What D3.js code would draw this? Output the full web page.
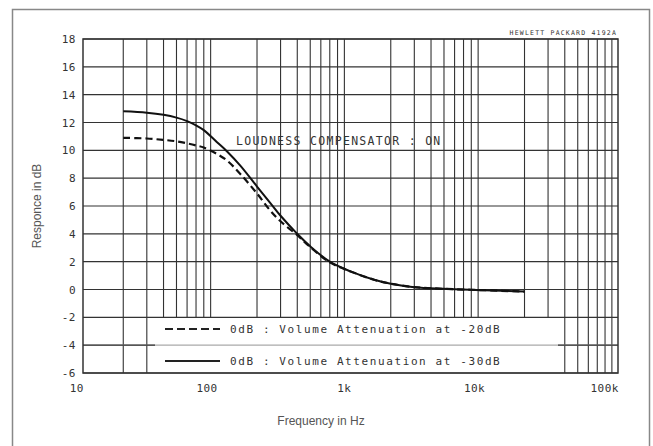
<!DOCTYPE html>
<html lang="en">
<head>
<meta charset="UTF-8">
<script src="https://cdnjs.cloudflare.com/ajax/libs/d3/7.8.5/d3.min.js"></script>
<style>
body { margin: 0; background: #fff; }
.plot { font-family: "DejaVu Sans Mono", monospace; fill: #333; }
.title { font-family: "Liberation Sans", Arial, sans-serif; fill: #555; font-size: 12px; }
</style>
</head>
<body>
<script>
// measured response, 20 Hz .. 20 kHz
var freqs   = [20, 30, 40, 50, 60, 70, 80, 100, 120, 150, 200, 250, 300, 400, 500, 700, 1000, 1500, 2000, 3000, 5000, 10000, 20000];
var att30dB = [12.8, 12.7, 12.55, 12.35, 12.1, 11.8, 11.45, 10.6, 9.9, 8.9, 7.4, 6.25, 5.3, 4.0, 3.1, 2.0, 1.3, 0.7, 0.42, 0.17, 0.05, -0.05, -0.15];
var att20dB = [10.9, 10.85, 10.75, 10.65, 10.5, 10.35, 10.2, 9.75, 9.25, 8.3, 6.9, 5.7, 4.9, 3.9, 3.05, 1.95, 1.3, 0.7, 0.42, 0.17, 0.05, -0.05, -0.15];

var xTickValues = [10, 100, 1000, 10000, 100000];
var xTickLabels = ["10", "100", "1k", "10k", "100k"];
var yTicks = [-6, -4, -2, 0, 2, 4, 6, 8, 10, 12, 14, 16, 18];

var W = 653, H = 446;
var x = d3.scaleLog().domain([10, 100000]).range([83, 618]);
var y = d3.scaleLinear().domain([-6, 18]).range([373, 39]);

var svg = d3.select("body").append("svg")
    .attr("width", W).attr("height", H);

// outer frame
svg.append("rect")
    .attr("x", 12.5).attr("y", 9.5)
    .attr("width", 637).attr("height", 450)
    .attr("fill", "none").attr("stroke", "#888").attr("stroke-width", 1.5);

var g = svg.append("g").attr("class", "plot");

// vertical grid: 2..9 in each decade (no decade lines)
var minor = x.ticks().filter(function(d) {
  var m = d / Math.pow(10, Math.floor(Math.log10(d) + 1e-9));
  return Math.round(m) !== 1;
});

// legend zone (no verticals below -2 between 30 Hz and 40 kHz)
var legX0 = 155, legX1 = 558;

g.selectAll(".vgrid")
  .data(minor)
  .enter().append("line")
    .attr("x1", function(d) { return x(d); })
    .attr("x2", function(d) { return x(d); })
    .attr("y1", y(18))
    .attr("y2", function(d) { return (x(d) > legX0 && x(d) < legX1) ? y(-2) : y(-6); })
    .attr("stroke", "#333").attr("stroke-width", 1.1);

g.selectAll(".hgrid")
  .data(yTicks)
  .enter().append("line")
    .attr("x1", x(10)).attr("x2", x(100000))
    .attr("y1", function(d) { return y(d); })
    .attr("y2", function(d) { return y(d); })
    .attr("stroke", function(d) { return d === -4 ? "#aaa" : "#333"; })
    .attr("stroke-width", 1.1);

// -4 line is darker outside the legend
g.append("line")
    .attr("x1", x(10)).attr("x2", legX0)
    .attr("y1", y(-4)).attr("y2", y(-4))
    .attr("stroke", "#333").attr("stroke-width", 1.1);
g.append("line")
    .attr("x1", legX1).attr("x2", x(100000))
    .attr("y1", y(-4)).attr("y2", y(-4))
    .attr("stroke", "#333").attr("stroke-width", 1.1);

// plot border
g.append("rect")
    .attr("x", x(10)).attr("y", y(18))
    .attr("width", x(100000) - x(10)).attr("height", y(-6) - y(18))
    .attr("fill", "none").attr("stroke", "#333").attr("stroke-width", 1.5);

// axes labels
g.selectAll(".ylab")
  .data(yTicks)
  .enter().append("text")
    .attr("x", 76)
    .attr("y", function(d) { return y(d) + 4; })
    .attr("text-anchor", "end")
    .style("font-size", "11px")
    .style("letter-spacing", "0.5px")
    .text(function(d) { return d; });

g.selectAll(".xlab")
  .data(xTickValues)
  .enter().append("text")
    .attr("x", function(d) { return x(d) + 1; })
    .attr("y", 392)
    .attr("text-anchor", "end")
    .style("font-size", "11px")
    .style("letter-spacing", "0.5px")
    .text(function(d, i) { return xTickLabels[i]; });

g.append("text")
    .attr("x", 617).attr("y", 35)
    .attr("text-anchor", "end")
    .style("font-size", "6.5px")
    .style("letter-spacing", "1.2px")
    .text("HEWLETT PACKARD 4192A");

g.append("text")
    .attr("x", 236).attr("y", 145)
    .style("font-size", "11.5px")
    .style("letter-spacing", "1.3px")
    .text("LOUDNESS COMPENSATOR : ON");

// curves
var line = d3.line()
    .x(function(d) { return x(d[0]); })
    .y(function(d) { return y(d[1]); })
    .curve(d3.curveCatmullRom.alpha(0.5));

g.append("path")
    .datum(freqs.map(function(f, i) { return [f, att20dB[i]]; }))
    .attr("d", line)
    .attr("fill", "none").attr("stroke", "#111")
    .attr("stroke-width", 2.2).attr("stroke-dasharray", "7,4");

g.append("path")
    .datum(freqs.map(function(f, i) { return [f, att30dB[i]]; }))
    .attr("d", line)
    .attr("fill", "none").attr("stroke", "#111")
    .attr("stroke-width", 2);

// legend
var legend = [
  {label: "0dB : Volume Attenuation at -20dB", dash: "8,4", y: 329},
  {label: "0dB : Volume Attenuation at -30dB", dash: null, y: 361}
];
legend.forEach(function(l) {
  g.append("line")
      .attr("x1", 165).attr("x2", 220)
      .attr("y1", l.y).attr("y2", l.y)
      .attr("stroke", "#222").attr("stroke-width", 2)
      .attr("stroke-dasharray", l.dash);
  g.append("text")
      .attr("x", 230).attr("y", l.y + 4)
      .style("font-size", "11px")
      .style("letter-spacing", "1.6px")
      .text(l.label);
});

// titles
svg.append("text")
    .attr("class", "title")
    .attr("x", 321).attr("y", 425)
    .attr("text-anchor", "middle")
    .text("Frequency in Hz");

svg.append("text")
    .attr("class", "title")
    .attr("transform", "translate(41,206) rotate(-90)")
    .attr("text-anchor", "middle")
    .text("Responce in dB");
</script>
</body>
</html>
